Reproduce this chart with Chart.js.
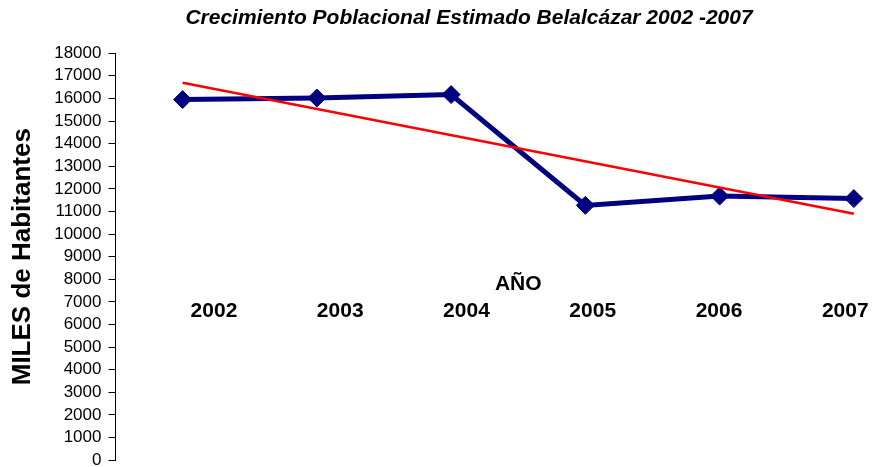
<!DOCTYPE html>
<html>
<head>
<meta charset="utf-8">
<script src="https://cdn.jsdelivr.net/npm/chart.js@4.4.0/dist/chart.umd.min.js"></script>
<style>
  html, body { margin: 0; background: #fff; overflow: hidden; }
</style>
</head>
<body>
<!-- el grafico original esta recortado a la derecha y abajo -->
<canvas id="poblacion" width="931" height="474"></canvas>
<script>
// datos
var anios = ['2002', '2003', '2004', '2005', '2006', '2007'];
var habitantes = [15950, 16020, 16170, 11270, 11680, 11570];
// linea de tendencia (solo extremos)
var tendencia = [16690, null, null, null, null, 10900];

var fuente = 'Liberation Sans, Arial, sans-serif';

var ctx = document.getElementById('poblacion');
var grafico = new Chart(ctx, {
  type: 'line',
  data: {
    labels: anios,
    datasets: [{
      label: 'Tendencia',
      data: tendencia,
      borderColor: '#ff0000',
      borderWidth: 2.5,
      pointRadius: 0,
      spanGaps: true,
      fill: false
    }, {
      label: 'Habitantes',
      data: habitantes,
      borderColor: '#000080',
      backgroundColor: '#000080',
      borderWidth: 5,
      pointStyle: 'rectRot',
      pointRadius: 9,
      pointBorderWidth: 1,
      pointBackgroundColor: '#000080',
      pointBorderColor: '#000080',
      fill: false
    }]
  },
  options: {
    responsive: false,
    animation: false,
    layout: {
      padding: { left: 7, right: 0, top: 0, bottom: 0 }
    },
    plugins: {
      legend: { display: false },
      tooltip: { enabled: false },
      title: {
        display: true,
        text: 'Crecimiento Poblacional Estimado Belalcázar 2002 -2007',
        color: '#000',
        font: { family: fuente, size: 21, weight: 'bold', style: 'italic' },
        padding: { top: 6, bottom: 22 }
      }
    },
    scales: {
      x: {
        type: 'category',
        offset: true,
        display: false
      },
      // eje de los años: en el original los rotulos no caen justo bajo los puntos
      xAnios: {
        type: 'linear',
        axis: 'x',
        min: -0.78,
        max: 5.6,
        position: { y: 7160 },
        grid: { display: false, drawTicks: false },
        border: { display: false },
        ticks: {
          stepSize: 1,
          includeBounds: false,
          color: '#000',
          padding: 0,
          maxRotation: 0,
          autoSkip: false,
          font: { family: fuente, size: 21, weight: 'bold' },
          callback: function(v) { return anios[v] !== undefined ? anios[v] : ''; }
        },
        title: {
          display: true,
          text: 'AÑO',
          color: '#000',
          font: { family: fuente, size: 21, weight: 'bold' },
          padding: { top: -52, bottom: 0 }
        }
      },
      y: {
        min: 0,
        max: 18000,
        ticks: {
          stepSize: 1000,
          padding: 7,
          color: '#000',
          font: { family: fuente, size: 17, lineHeight: 0.8 },
          callback: function(v) { return String(v); }
        },
        grid: {
          drawOnChartArea: false,
          drawTicks: true,
          tickLength: 7,
          color: '#000'
        },
        border: { display: true, color: '#000', width: 1 },
        title: {
          display: true,
          text: 'MILES de Habitantes',
          color: '#000',
          font: { family: fuente, size: 26, weight: 'bold' },
          padding: { top: 0, bottom: 9 }
        }
      }
    }
  }
});
</script>
</body>
</html>
